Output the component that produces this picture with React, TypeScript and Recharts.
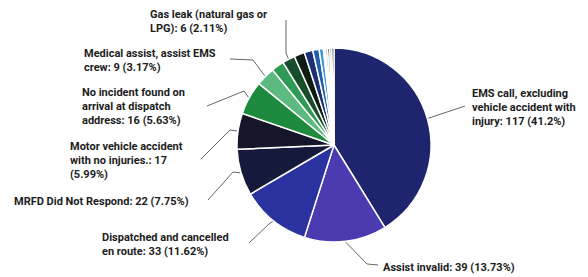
import React from "react";
import { PieChart, Pie, Cell } from "recharts";

const categories = [
  "EMS call, excluding vehicle accident with injury",
  "Assist invalid",
  "Dispatched and cancelled en route",
  "MRFD Did Not Respond",
  "Motor vehicle accident with no injuries.",
  "No incident found on arrival at dispatch address",
  "Medical assist, assist EMS crew",
  "Other A",
  "Gas leak (natural gas or LPG)",
  "Other B",
  "Other C",
  "Other D",
  "Other E",
  "Other F",
  "Other G",
  "Other H",
  "Other I",
  "Other J",
];
const values = [117, 39, 33, 22, 17, 16, 9, 6, 6, 5, 4, 3, 2, 1, 1, 1, 1, 1];
const labelTexts: (string[] | null)[] = [
  ["EMS call, excluding", "vehicle accident with", "injury: 117 (41.2%)"],
  ["Assist invalid: 39 (13.73%)"],
  ["Dispatched and cancelled", "en route: 33 (11.62%)"],
  ["MRFD Did Not Respond: 22 (7.75%)"],
  ["Motor vehicle accident", "with no injuries.: 17", "(5.99%)"],
  ["No incident found on", "arrival at dispatch", "address: 16 (5.63%)"],
  ["Medical assist, assist EMS", "crew: 9 (3.17%)"],
  null,
  ["Gas leak (natural gas or", "LPG): 6 (2.11%)"],
  null, null, null, null, null, null, null, null, null,
];
const colors = [
  "#1f246e", "#4a3bb0", "#2a32a0", "#151a3c", "#16162a", "#1e8a3e",
  "#5cba80", "#2f9a55", "#174d2a", "#0f1c14", "#1c2f78", "#2060b0",
  "#3d93d8", "#e6edf5", "#9aa6bd", "#34363c", "#8a8e96", "#111111",
];

// label layout: offsets from pie centre (elbow, end of leader, text start, first line y)
const labelLayout: ({ pts: [number, number][]; tx: number; ty: number } | null)[] = [
  { pts: [[131, -39]], tx: 138, ty: -52 },
  { pts: [[33, 119], [44, 120]], tx: 49, ty: 122 },
  { pts: [[-64, 78], [-85, 98]], tx: -232, ty: 92 },
  { pts: [[-101, 27], [-126, 55]], tx: -320, ty: 56 },
  { pts: [[-104, -15], [-133, 14]], tx: -264, ty: 1 },
  { pts: [[-90, -54], [-127, -39]], tx: -252, ty: -53 },
  { pts: [[-81, -85], [-104, -86]], tx: -250, ty: -92 },
  null,
  { pts: [[-48, -92], [-48, -125]], tx: -184, ty: -131 },
  null, null, null, null, null, null, null, null, null,
];

const data = categories.map((name, i) => ({ name, value: values[i] }));
const RAD = Math.PI / 180;
const LINE_H = 14;

const renderLabel = (props: any) => {
  const { cx, cy, midAngle, outerRadius, index } = props;
  const layout = labelLayout[index];
  const lines = labelTexts[index];
  if (!layout || !lines) return null;
  const sx = cx + (outerRadius + 1) * Math.cos(-midAngle * RAD);
  const sy = cy + (outerRadius + 1) * Math.sin(-midAngle * RAD);
  const pts = [[sx, sy], ...layout.pts.map(([dx, dy]) => [cx + dx, cy + dy])];
  return (
    <g key={`lbl-${index}`}>
      <polyline
        points={pts.map((p) => p.join(",")).join(" ")}
        fill="none"
        stroke="#666"
        strokeWidth={1}
      />
      <text
        x={cx + layout.tx}
        y={cy + layout.ty}
        fill="#1c1c1c"
        fontFamily="Roboto, 'Noto Sans', sans-serif"
        fontWeight={700}
        fontSize={11}
        dominantBaseline="central"
      >
        {lines.map((ln, k) => (
          <tspan key={k} x={cx + layout.tx} y={cy + layout.ty + k * LINE_H}>
            {ln}
          </tspan>
        ))}
      </text>
    </g>
  );
};

export default function App() {
  return (
    <div style={{ width: 580, height: 269, background: "#fff" }}>
      <PieChart width={580} height={269} margin={{ top: 0, right: 0, bottom: 0, left: 0 }}>
        <Pie
          data={data}
          dataKey="value"
          nameKey="name"
          cx={326}
          cy={137}
          outerRadius={97}
          startAngle={90}
          endAngle={-270}
          stroke="#ffffff"
          strokeWidth={1.5}
          labelLine={false}
          label={renderLabel}
          isAnimationActive={false}
        >
          {data.map((d, i) => (
            <Cell key={d.name} fill={colors[i]} />
          ))}
        </Pie>
      </PieChart>
    </div>
  );
}
